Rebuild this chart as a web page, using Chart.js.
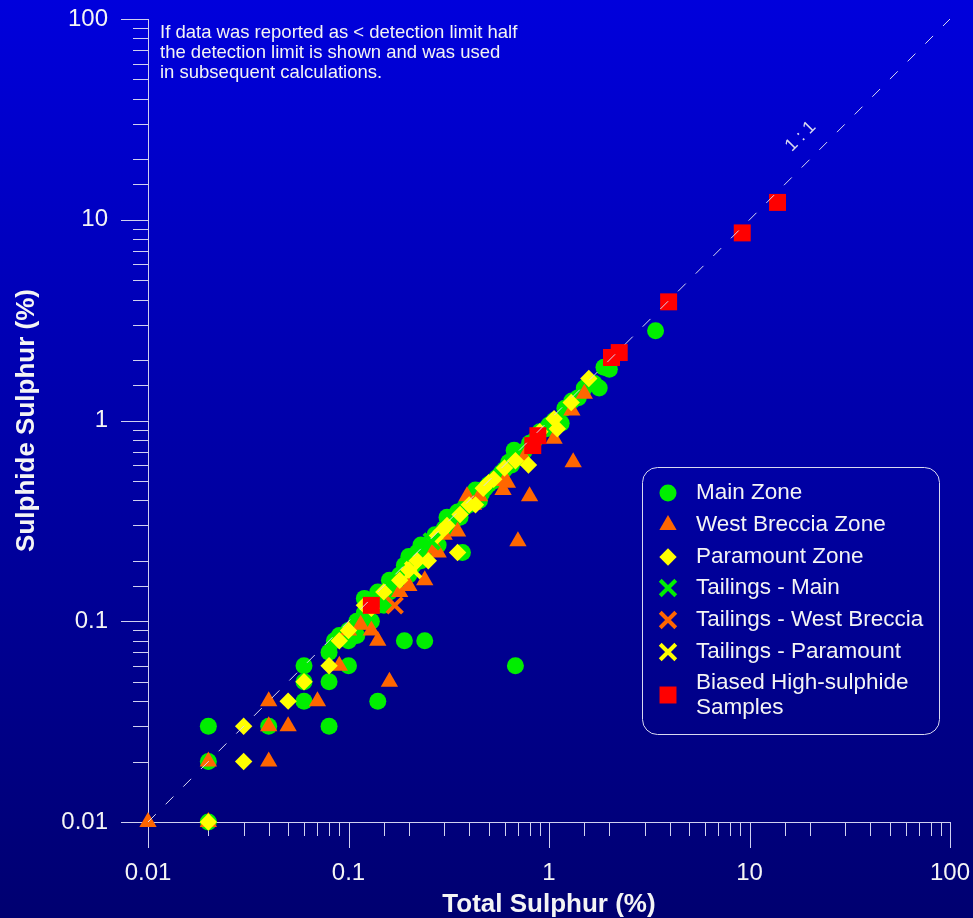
<!DOCTYPE html>
<html lang="en">
<head>
    <meta charset="UTF-8">
    <title>Total Sulphur vs Sulphide Sulphur</title>
    <script src="https://cdn.jsdelivr.net/npm/chart.js"></script>
    <style>
        html, body { margin: 0; padding: 0; }
        body { width: 973px; height: 918px; overflow: hidden;
               background: linear-gradient(to bottom, #0000dc 0%, #000070 100%); }
        #wrap { position: relative; width: 973px; height: 918px; }
    </style>
</head>
<body>
    <div id="wrap"><canvas id="sulphurChart" width="973" height="918"></canvas></div>
    <script>
        // [total sulphur %, sulphide sulphur %]
        const mainZone = [
            [0.02, 0.03], [0.02, 0.02], [0.02, 0.01], [0.04, 0.03], [0.06, 0.06], [0.06, 0.05], [0.06, 0.04],
            [0.08, 0.07], [0.08, 0.05], [0.08, 0.03], [0.1, 0.06], [0.14, 0.04], [0.19, 0.08], [0.24, 0.08],
            [0.68, 0.06], [0.37, 0.22], [3.4, 2.8], [2.0, 1.8], [1.78, 1.45],
            [0.085, 0.08], [0.09, 0.085], [0.1, 0.09], [0.1, 0.08], [0.11, 0.1], [0.11, 0.085], [0.12, 0.11],
            [0.12, 0.13], [0.13, 0.1], [0.13, 0.12], [0.14, 0.14], [0.14, 0.13], [0.15, 0.12], [0.16, 0.14],
            [0.16, 0.16], [0.17, 0.15], [0.18, 0.17], [0.19, 0.19], [0.2, 0.17], [0.2, 0.21], [0.21, 0.19],
            [0.22, 0.22], [0.23, 0.24], [0.23, 0.2], [0.25, 0.23], [0.26, 0.25], [0.27, 0.27], [0.28, 0.24],
            [0.3, 0.29], [0.31, 0.33], [0.32, 0.3], [0.33, 0.31], [0.35, 0.35], [0.36, 0.33], [0.38, 0.37],
            [0.4, 0.38], [0.42, 0.42], [0.43, 0.45], [0.45, 0.4], [0.46, 0.43], [0.48, 0.46], [0.5, 0.48],
            [0.53, 0.5], [0.55, 0.52], [0.58, 0.55], [0.6, 0.57], [0.63, 0.62], [0.65, 0.6], [0.67, 0.71],
            [0.7, 0.65], [0.75, 0.7], [0.8, 0.77], [0.85, 0.8], [0.9, 0.88], [0.97, 0.91], [1.0, 0.95],
            [1.06, 1.0], [1.1, 0.95], [1.15, 0.97], [1.2, 1.15], [1.3, 1.25], [1.4, 1.3], [1.5, 1.45],
            [1.68, 1.53], [1.88, 1.84], [0.14, 0.12], [0.12, 0.1]
        ];
        const westBrecciaZone = [
            [0.01, 0.01], [0.02, 0.02], [0.02, 0.01], [0.04, 0.04], [0.04, 0.03], [0.04, 0.02], [0.05, 0.03],
            [0.07, 0.04], [0.09, 0.06], [0.1, 0.09], [0.115, 0.096], [0.13, 0.09], [0.14, 0.08], [0.16, 0.05],
            [0.18, 0.14], [0.2, 0.15], [0.24, 0.16], [0.27, 0.23], [0.28, 0.22], [0.3, 0.27], [0.35, 0.28],
            [0.39, 0.42], [0.42, 0.38], [0.45, 0.42], [0.59, 0.45], [0.62, 0.49], [0.6, 0.5], [0.7, 0.25],
            [0.8, 0.42], [0.82, 0.75], [0.75, 0.65], [1.06, 0.81], [1.32, 0.62], [1.3, 1.12], [1.5, 1.36]
        ];
        const paramountZone = [
            [0.02, 0.01], [0.03, 0.03], [0.03, 0.02], [0.05, 0.04], [0.06, 0.05], [0.08, 0.06], [0.09, 0.08],
            [0.1, 0.09], [0.13, 0.116], [0.12, 0.12], [0.15, 0.14], [0.18, 0.16], [0.2, 0.18], [0.22, 0.2],
            [0.25, 0.2], [0.27, 0.26], [0.29, 0.28], [0.31, 0.3], [0.35, 0.22], [0.36, 0.34], [0.4, 0.38],
            [0.43, 0.38], [0.47, 0.46], [0.5, 0.49], [0.53, 0.51], [0.6, 0.58], [0.68, 0.63], [0.79, 0.6],
            [0.9, 0.88], [1.1, 0.91], [1.06, 1.02], [1.29, 1.23], [1.58, 1.62]
        ];
        const tailingsMain = [[0.26, 0.25]];
        const tailingsWestBreccia = [[0.17, 0.12]];
        const tailingsParamount = [[0.21, 0.18]];
        const biasedHighSulphide = [
            [0.13, 0.12], [0.83, 0.75], [0.88, 0.84], [2.05, 2.06], [2.24, 2.18], [3.95, 3.9], [9.2, 8.6], [13.8, 12.2]
        ];
        const oneToOne = [[0.01, 0.01], [100, 100]];

        const decadeValues = [0.01, 0.1, 1, 10, 100];
        const tickLabels = ['0.01', '0.1', '1', '10', '100'];
        const note = ['If data was reported as < detection limit half',
                      'the detection limit is shown and was used',
                      'in subsequent calculations.'];

        const FONT = "'Liberation Sans', Arial, sans-serif";
        const TEXT = '#f4f4f4';
        const AXIS = '#d0d0f0';

        const toPoints = arr => arr.map(p => ({ x: p[0], y: p[1] }));
        const decadeIndex = v => decadeValues.findIndex(d => Math.abs(Math.log10(v) - Math.log10(d)) < 1e-6);
        const labelFor = v => { const i = decadeIndex(v); return i >= 0 ? tickLabels[i] : ''; };
        // tick padding is only wanted for label placement, not for the chart area
        const noScalePadding = s => { s.paddingLeft = s.paddingRight = s.paddingTop = s.paddingBottom = 0; };

        const series = [
            { label: 'Main Zone', data: mainZone, style: 'circle', r: 8.5, color: '#00ee00', order: 6 },
            { label: 'West Breccia Zone', data: westBrecciaZone, style: 'triangle', r: 10, color: '#ff6600', order: 5 },
            { label: 'Paramount Zone', data: paramountZone, style: 'rectRot', r: 8.7, color: '#ffff00', order: 4 },
            { label: 'Tailings - Main', data: tailingsMain, style: 'crossRot', r: 11, color: '#00ee00', order: 3 },
            { label: 'Tailings - West Breccia', data: tailingsWestBreccia, style: 'crossRot', r: 11, color: '#ff6600', order: 2 },
            { label: 'Tailings - Paramount', data: tailingsParamount, style: 'crossRot', r: 11, color: '#ffff00', order: 1 },
            { label: ['Biased High-sulphide', 'Samples'], data: biasedHighSulphide, style: 'rect', r: 12, color: '#ff0000', order: 0 }
        ];

        const datasets = series.map(s => ({
            type: 'scatter',
            label: s.label,
            data: toPoints(s.data),
            pointStyle: s.style,
            pointRadius: s.r,
            backgroundColor: s.color,
            borderColor: s.color,
            borderWidth: s.style === 'crossRot' ? 4 : 0,
            clip: false,
            order: s.order
        }));
        datasets.push({
            type: 'line',
            label: '1:1',
            data: toPoints(oneToOne),
            borderColor: '#d8d8f0',
            borderWidth: 1,
            borderDash: [11, 14],
            pointRadius: 0,
            order: -1
        });

        // axis lines and tick marks (major ticks longer)
        const axisPlugin = {
            id: 'axisPlugin',
            beforeDatasetsDraw(chart) {
                const { ctx, chartArea: a, scales: { x, y } } = chart;
                ctx.save();
                ctx.strokeStyle = AXIS;
                ctx.lineWidth = 1;
                ctx.beginPath();
                ctx.moveTo(a.left, a.bottom + 0.5);
                ctx.lineTo(a.right, a.bottom + 0.5);
                ctx.moveTo(a.left + 0.5, a.top);
                ctx.lineTo(a.left + 0.5, a.bottom);
                x.ticks.forEach(t => {
                    const px = Math.round(x.getPixelForValue(t.value)) + 0.5;
                    const len = decadeIndex(t.value) >= 0 ? 26 : 14;
                    ctx.moveTo(px, a.bottom);
                    ctx.lineTo(px, a.bottom + len);
                });
                y.ticks.forEach(t => {
                    const py = Math.round(y.getPixelForValue(t.value)) + 0.5;
                    const len = decadeIndex(t.value) >= 0 ? 27 : 15;
                    ctx.moveTo(a.left, py);
                    ctx.lineTo(a.left - len, py);
                });
                ctx.stroke();
                ctx.restore();
            },
            afterDraw(chart) {
                const { ctx, chartArea: a, scales: { x, y } } = chart;
                ctx.save();
                // note in the top-left corner
                ctx.fillStyle = TEXT;
                ctx.font = '18.5px ' + FONT;
                ctx.textBaseline = 'middle';
                ctx.textAlign = 'left';
                note.forEach((line, i) => ctx.fillText(line, a.left + 12, a.top + 14 + i * 20));

                // 1:1 label along the dashed line
                ctx.save();
                ctx.translate(x.getPixelForValue(18), y.getPixelForValue(26));
                ctx.rotate(-Math.PI / 4);
                ctx.fillStyle = '#d8d8f0';
                ctx.font = '18px ' + FONT;
                ctx.textAlign = 'center';
                ctx.fillText('1 : 1', 0, 0);
                ctx.restore();

                // legend box
                const bx = 642, by = 467, bw = 297, bh = 267;
                ctx.strokeStyle = '#d8d8f0';
                ctx.lineWidth = 1;
                ctx.beginPath();
                ctx.roundRect(bx + 0.5, by + 0.5, bw, bh, 15);
                ctx.stroke();
                ctx.font = '22.5px ' + FONT;
                const rows = [493, 525, 557, 588, 620, 652, 695];
                series.forEach((s, i) => {
                    const cy = rows[i];
                    const bwid = s.style === 'crossRot' ? 4 : 0;
                    ctx.fillStyle = s.color;
                    ctx.strokeStyle = s.color;
                    ctx.lineWidth = bwid || 1;
                    Chart.helpers.drawPoint(ctx, {
                        pointStyle: s.style, radius: s.r, rotation: 0, borderWidth: bwid
                    }, 668, cy);
                    ctx.fillStyle = TEXT;
                    const lines = Array.isArray(s.label) ? s.label : [s.label];
                    lines.forEach((l, j) => ctx.fillText(l, 696, cy - (lines.length - 1) * 12.5 + j * 25));
                });
                ctx.restore();
            }
        };

        new Chart(document.getElementById('sulphurChart'), {
            type: 'scatter',
            data: { datasets },
            options: {
                responsive: false,
                animation: false,
                events: [],
                layout: { autoPadding: false, padding: { top: 19, right: 23, left: 0, bottom: 0 } },
                plugins: { legend: { display: false }, tooltip: { enabled: false } },
                scales: {
                    x: {
                        type: 'logarithmic', position: 'bottom', min: 0.01, max: 100,
                        grid: { display: false, drawTicks: false },
                        border: { display: false },
                        ticks: { autoSkip: false, maxRotation: 0, padding: 37, color: TEXT,
                                 font: { family: FONT, size: 24 }, callback: v => labelFor(v) },
                        title: { display: true, text: 'Total Sulphur (%)', color: TEXT,
                                 font: { family: FONT, size: 26, weight: 'bold', lineHeight: 1 },
                                 padding: { top: 0, bottom: 0 } },
                        afterFit: s => { s.height = 96; noScalePadding(s); }
                    },
                    y: {
                        type: 'logarithmic', position: 'left', min: 0.01, max: 100,
                        grid: { display: false, drawTicks: false },
                        border: { display: false },
                        ticks: { autoSkip: false, padding: 40, color: TEXT,
                                 font: { family: FONT, size: 24 }, callback: v => labelFor(v) },
                        title: { display: true, text: 'Sulphide Sulphur (%)', color: TEXT,
                                 font: { family: FONT, size: 26, weight: 'bold', lineHeight: 1 },
                                 padding: { top: 14, bottom: 0 } },
                        afterFit: s => { s.width = 148; noScalePadding(s); }
                    }
                }
            },
            plugins: [axisPlugin]
        });
    </script>
</body>
</html>
